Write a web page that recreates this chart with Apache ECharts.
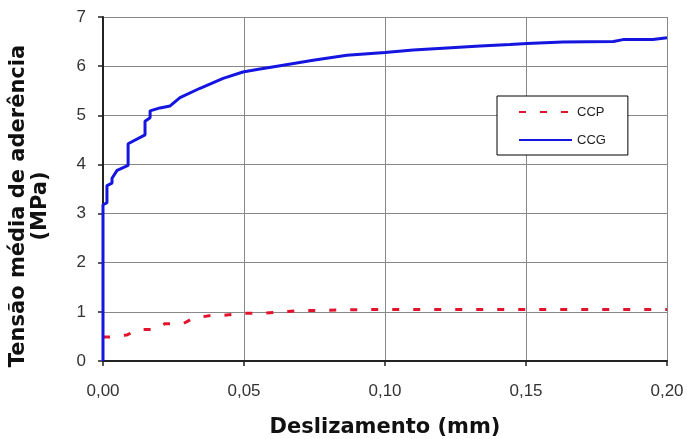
<!DOCTYPE html>
<html>
<head>
<meta charset="utf-8">
<script src="https://cdn.jsdelivr.net/npm/echarts@6/dist/echarts.min.js"></script>
<style>html,body{margin:0;padding:0;background:#fff}#c{width:687px;height:439px}</style>
</head>
<body>
<div id="c"></div>
<script>
const xTicks = [0, 0.05, 0.10, 0.15, 0.20];
const yTicks = [0, 1, 2, 3, 4, 5, 6, 7];
const seriesNames = ['CCP', 'CCG'];
const ccpX = [0, 0.0025, 0.0085, 0.0124, 0.0184, 0.022, 0.0284, 0.0319, 0.0387, 0.0426, 0.0496, 0.0567, 0.0617, 0.0688, 0.084, 0.0993, 0.2];
const ccpY = [0.49, 0.49, 0.53, 0.64, 0.64, 0.76, 0.76, 0.87, 0.93, 0.93, 0.97, 0.97, 0.99, 1.02, 1.04, 1.05, 1.05];
const ccgX = [0, 0, 0.0004, 0.0014, 0.0014, 0.0032, 0.0032, 0.005, 0.0089, 0.0089, 0.0149, 0.0149, 0.0167, 0.0167, 0.0202, 0.0238, 0.0273, 0.0344, 0.0426, 0.0496, 0.0546, 0.0628, 0.0745, 0.0865, 0.1, 0.11, 0.122, 0.1337, 0.1443, 0.1504, 0.163, 0.181, 0.1844, 0.195, 0.2];
const ccgY = [0, 3.18, 3.2, 3.22, 3.57, 3.62, 3.72, 3.88, 3.98, 4.42, 4.6, 4.88, 4.95, 5.09, 5.15, 5.19, 5.36, 5.55, 5.75, 5.88, 5.93, 6.01, 6.12, 6.22, 6.28, 6.33, 6.37, 6.41, 6.44, 6.46, 6.49, 6.5, 6.54, 6.54, 6.58];

const pair = (xs, ys) => xs.map((x, i) => [x, ys[i]]);
const chart = echarts.init(document.getElementById('c'), null, {renderer: 'canvas'});
const labelFont = {fontFamily: 'Liberation Sans', fontSize: 17, color: '#333'};
chart.setOption({
  animation: false,
  backgroundColor: '#fff',
  grid: {left: 103, top: 17, right: 20, bottom: 78, containLabel: false, outerBoundsMode: 'none'},
  xAxis: {
    type: 'value', min: xTicks[0], max: xTicks[xTicks.length - 1], interval: 0.05,
    name: 'Deslizamento (mm)', nameLocation: 'middle', nameGap: 56,
    nameTextStyle: {fontFamily: 'DejaVu Sans', fontWeight: 'bold', fontSize: 21, color: '#111'},
    axisLine: {lineStyle: {color: '#222', width: 2}},
    axisTick: {show: true, length: 5, lineStyle: {color: '#222', width: 1.5}},
    splitLine: {show: true, lineStyle: {color: '#888', width: 1}},
    axisLabel: Object.assign({margin: 22, formatter: v => v.toFixed(2).replace('.', ',')}, labelFont)
  },
  yAxis: {
    type: 'value', min: yTicks[0], max: yTicks[yTicks.length - 1], interval: 1,
    axisLine: {show: true, lineStyle: {color: '#222', width: 2}},
    axisTick: {show: true, length: 5, lineStyle: {color: '#222', width: 1.5}},
    splitLine: {show: true, lineStyle: {color: '#888', width: 1}},
    axisLabel: Object.assign({margin: 17}, labelFont)
  },
  legend: {
    orient: 'vertical', left: 497, top: 96,
    padding: [9, 22, 8, 21], itemGap: 14, itemWidth: 53, itemHeight: 14,
    borderColor: '#000', borderWidth: 1, backgroundColor: '#fff',
    itemStyle: {opacity: 0},
    textStyle: {fontFamily: 'Liberation Sans', fontSize: 13, color: '#222', lineHeight: 14},
    data: seriesNames
  },
  graphic: [{
    type: 'text', x: 30, y: 206, rotation: Math.PI / 2,
    style: {
      text: 'Tensão média de aderência\n(MPa)', align: 'center', verticalAlign: 'middle',
      fontFamily: 'DejaVu Sans', fontWeight: 'bold', fontSize: 21, lineHeight: 22, fill: '#111'
    }
  }],
  series: [
    {name: seriesNames[0], type: 'line', symbol: 'none', data: pair(ccpX, ccpY),
     lineStyle: {color: '#e3132b', width: 3, type: [7, 14]}, itemStyle: {color: '#e3132b'}, z: 3},
    {name: seriesNames[1], type: 'line', symbol: 'none', data: pair(ccgX, ccgY),
     lineStyle: {color: '#1515e0', width: 3}, itemStyle: {color: '#1515e0'}, z: 4}
  ]
});
</script>
</body>
</html>
